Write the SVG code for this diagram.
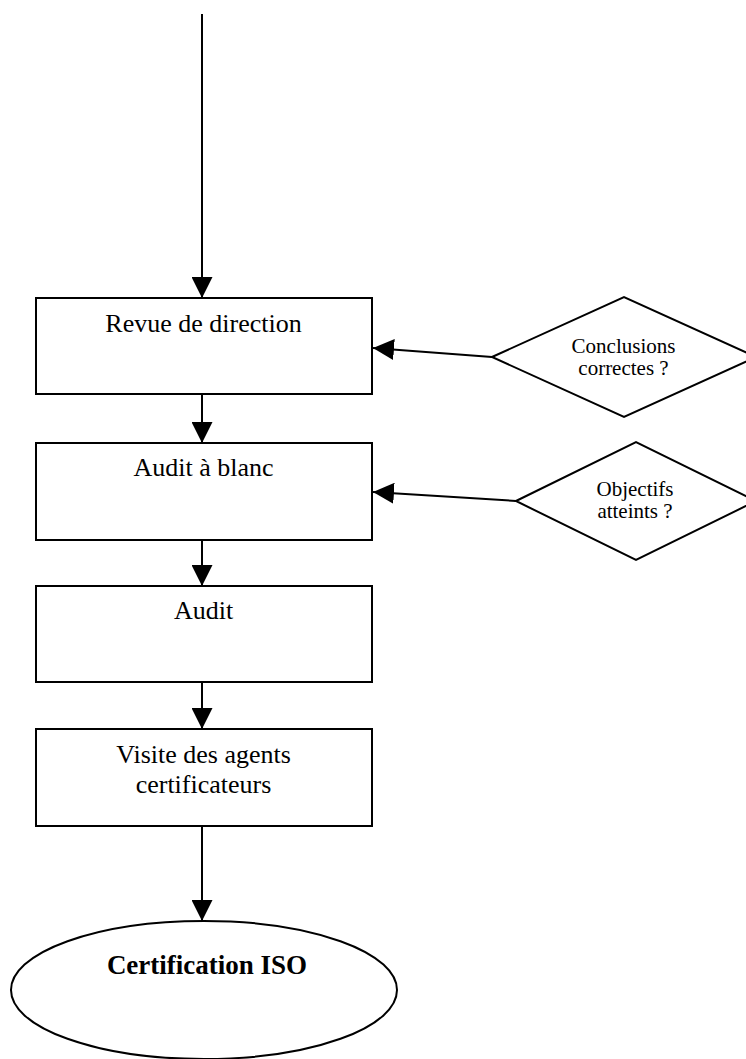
<svg xmlns="http://www.w3.org/2000/svg" width="746" height="1059" viewBox="0 0 746 1059">
  <style>
    .shape { fill: #ffffff; stroke: #000000; stroke-width: 2; }
    .edge { fill: none; stroke: #000000; stroke-width: 2; }
    .label { font-family: "Liberation Serif", "Times New Roman", serif; font-size: 26px; fill: #000000; text-anchor: middle; }
    .small { font-family: "Liberation Serif", "Times New Roman", serif; font-size: 21px; fill: #000000; text-anchor: middle; }
    .bold { font-family: "Liberation Serif", "Times New Roman", serif; font-size: 27px; font-weight: bold; fill: #000000; text-anchor: middle; }
  </style>
  <defs>
    <marker id="arrow" markerUnits="userSpaceOnUse" markerWidth="21" markerHeight="21" viewBox="0 0 20 20" refX="20" refY="10" orient="auto">
      <path d="M0,0 L20,10 L0,20 Z" fill="#000000"/>
    </marker>
  </defs>

  <rect width="746" height="1059" fill="#ffffff"/>

  <!-- connectors -->
  <g id="connectors">
    <line class="edge" x1="202" y1="14" x2="202" y2="298" marker-end="url(#arrow)"/>
    <line class="edge" x1="202" y1="394" x2="202" y2="443" marker-end="url(#arrow)"/>
    <line class="edge" x1="202" y1="540" x2="202" y2="586" marker-end="url(#arrow)"/>
    <line class="edge" x1="202" y1="682" x2="202" y2="729" marker-end="url(#arrow)"/>
    <line class="edge" x1="202" y1="826" x2="202" y2="921" marker-end="url(#arrow)"/>
    <line class="edge" x1="492" y1="357" x2="373" y2="348" marker-end="url(#arrow)"/>
    <line class="edge" x1="516" y1="501" x2="373" y2="492" marker-end="url(#arrow)"/>
  </g>

  <!-- process steps -->
  <g id="revue">
    <rect class="shape" x="36" y="298" width="336" height="96"/>
    <text class="label" x="203.5" y="332">Revue de direction</text>
  </g>
  <g id="audit-blanc">
    <rect class="shape" x="36" y="443" width="336" height="97"/>
    <text class="label" x="203.5" y="476">Audit à blanc</text>
  </g>
  <g id="audit">
    <rect class="shape" x="36" y="586" width="336" height="96"/>
    <text class="label" x="203.5" y="619">Audit</text>
  </g>
  <g id="visite">
    <rect class="shape" x="36" y="729" width="336" height="97"/>
    <text class="label" x="203.5" y="763">Visite des agents</text>
    <text class="label" x="203.5" y="793">certificateurs</text>
  </g>

  <!-- decisions -->
  <g id="conclusions">
    <polygon class="shape" points="492,357 624,297 756,357 624,417"/>
    <text class="small" x="623.5" y="353">Conclusions</text>
    <text class="small" x="623.5" y="375">correctes ?</text>
  </g>
  <g id="objectifs">
    <polygon class="shape" points="516,501 636,442 756,501 636,560"/>
    <text class="small" x="635" y="496">Objectifs</text>
    <text class="small" x="635" y="518">atteints ?</text>
  </g>

  <!-- outcome -->
  <g id="certification">
    <ellipse class="shape" cx="204" cy="990" rx="193" ry="69"/>
    <text class="bold" x="207" y="974">Certification ISO</text>
  </g>
</svg>
